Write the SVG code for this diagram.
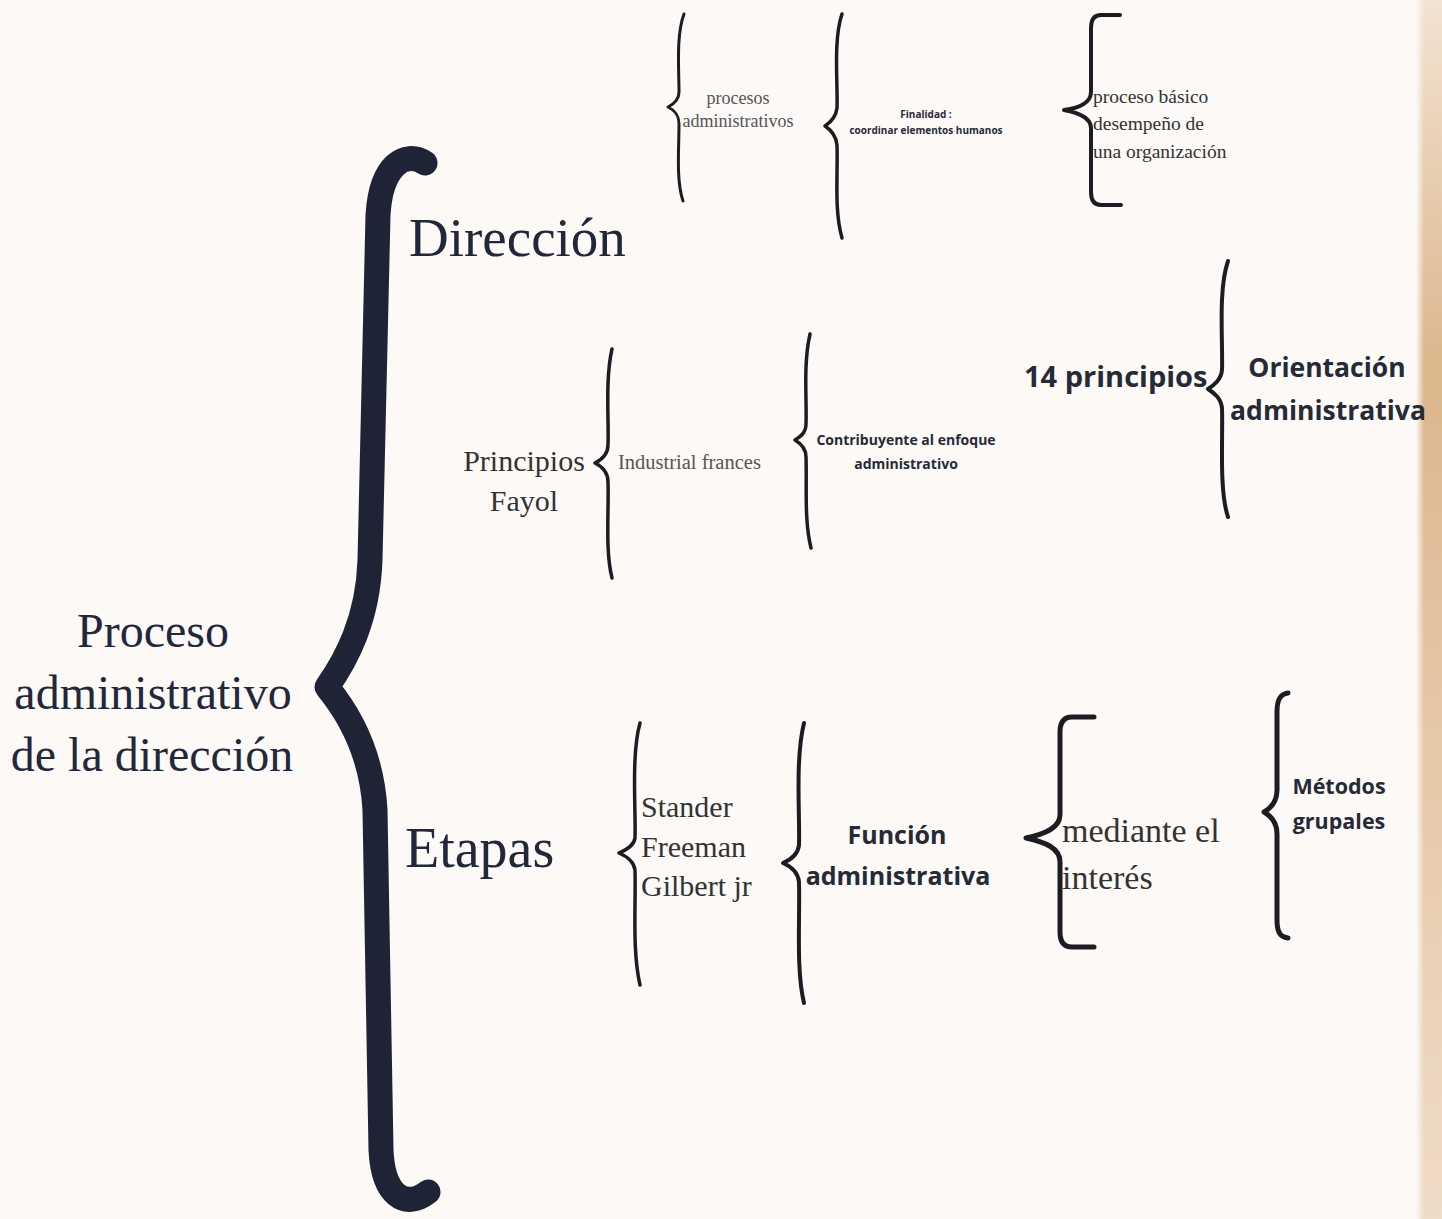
<svg xmlns="http://www.w3.org/2000/svg" width="1442" height="1219" viewBox="0 0 1442 1219">
<defs>
<linearGradient id="strip" x1="0" y1="0" x2="0" y2="1">
<stop offset="0" stop-color="#f3e3d2"/>
<stop offset="0.3" stop-color="#dcb68c"/>
<stop offset="0.6" stop-color="#e6c7a6"/>
<stop offset="1" stop-color="#efdcc8"/>
</linearGradient>
<linearGradient id="fade" x1="0" y1="0" x2="1" y2="0">
<stop offset="0" stop-color="#fcf9f7" stop-opacity="1"/>
<stop offset="1" stop-color="#fcf9f7" stop-opacity="0"/>
</linearGradient>
<style>
.serif{font-family:"Liberation Serif","Times New Roman",serif;fill:#23273a}
.gray{fill:#555555}
.mid{fill:#333333}
.bold{font-family:"Open Sans","Noto Sans","Liberation Sans",sans-serif;font-weight:700;fill:#262a36}
.br{fill:none;stroke:#1c1c22;stroke-linecap:round;stroke-linejoin:round}
.big{fill:none;stroke:#1e2436;stroke-width:25;stroke-linecap:round;stroke-linejoin:round}
</style>
</defs>
<rect x="0" y="0" width="1442" height="1219" fill="#fcf9f7"/>
<rect x="1416" y="0" width="26" height="1219" fill="url(#strip)"/>
<rect x="1416" y="0" width="8" height="1219" fill="url(#fade)"/>

<g id="connectors">
<path class="big" d="M 425,163 C 405,150 381,165 378,215 L 370,560 C 368,620 346,660 327,687 C 350,715 372,755 375,810 L 381,1150 C 383,1195 405,1210 428,1192"/>
<path class="br" stroke-width="3" d="M 684,14 C 676,35 679,70 679,92 C 679,100 674,104 668,107 C 674,110 679,114 679,124 C 679,150 676,180 683,201"/>
<path class="br" stroke-width="3.5" d="M 842,14 C 833,40 838,85 837,108 C 836,117 831,122 825,126 C 831,130 836,135 837,145 C 838,175 834,210 842,238"/>
<path class="br" stroke-width="4" d="M 1120,15 L 1101,15 C 1094,15 1091,20 1091,28 L 1091,92 C 1091,102 1080,108 1064,110 C 1080,113 1091,118 1091,128 L 1091,192 C 1091,200 1094,205 1101,205 L 1121,205"/>
<path class="br" stroke-width="3.5" d="M 612,349 C 605,380 609,420 608,445 C 608,455 601,460 595,463 C 601,466 608,471 608,482 C 609,510 605,550 612,578"/>
<path class="br" stroke-width="3.5" d="M 810,334 C 803,365 807,400 806,424 C 806,433 800,437 795,440 C 800,443 806,448 806,457 C 807,485 804,520 811,548"/>
<path class="br" stroke-width="4" d="M 1228,261 C 1218,290 1223,340 1222,370 C 1221,380 1214,385 1208,389 C 1214,393 1221,398 1222,408 C 1223,440 1219,490 1228,517"/>
<path class="br" stroke-width="3.5" d="M 640,723 C 631,755 636,810 635,838 C 634,846 626,850 619,853 C 626,856 634,861 635,870 C 636,905 632,950 640,985"/>
<path class="br" stroke-width="4" d="M 804,723 C 795,760 800,815 799,845 C 798,855 790,860 783,863 C 790,866 798,872 799,882 C 800,920 796,970 804,1003"/>
<path class="br" stroke-width="5" d="M 1094,717 L 1072,717 C 1064,717 1060,722 1060,732 L 1060,815 C 1060,828 1045,834 1026,838 C 1045,842 1060,848 1060,862 L 1060,932 C 1060,942 1064,947 1072,947 L 1094,947"/>
<path class="br" stroke-width="5" d="M 1288,693 C 1280,694 1277,700 1277,712 L 1277,790 C 1277,802 1271,808 1264,812 C 1271,816 1277,822 1277,834 L 1277,920 C 1277,932 1280,937 1288,938"/>
</g>

<g id="root">
<text class="serif" font-size="48" text-anchor="middle" x="153" y="647">Proceso</text>
<text class="serif" font-size="48" text-anchor="middle" x="153" y="709">administrativo</text>
<text class="serif" font-size="48" text-anchor="middle" x="152" y="771">de la dirección</text>
</g>
<g id="direccion">
<text class="serif" font-size="55" x="409" y="256">Dirección</text>
</g>
<g id="etapas">
<text class="serif" font-size="56" x="405" y="867">Etapas</text>
</g>
<g id="procesos">
<text class="serif gray" font-size="18" text-anchor="middle" x="738" y="104">procesos</text>
<text class="serif gray" font-size="18" text-anchor="middle" x="738" y="127">administrativos</text>
</g>
<g id="finalidad">
<text class="bold" font-size="10" text-anchor="middle" x="926" y="118">Finalidad :</text>
<text class="bold" font-size="10" text-anchor="middle" x="926" y="134">coordinar elementos humanos</text>
</g>
<g id="proceso-basico">
<text class="serif mid" font-size="19.5" x="1093" y="103">proceso básico</text>
<text class="serif mid" font-size="19.5" x="1093" y="130">desempeño de</text>
<text class="serif mid" font-size="19.5" x="1093" y="158">una organización</text>
</g>
<g id="principios-fayol">
<text class="serif mid" font-size="30" text-anchor="middle" x="524" y="471">Principios</text>
<text class="serif mid" font-size="30" text-anchor="middle" x="524" y="511">Fayol</text>
</g>
<g id="industrial">
<text class="serif gray" font-size="20.5" x="618" y="469">Industrial frances</text>
</g>
<g id="contribuyente">
<text class="bold" font-size="14" text-anchor="middle" x="906" y="445">Contribuyente al enfoque</text>
<text class="bold" font-size="14" text-anchor="middle" x="906" y="469">administrativo</text>
</g>
<g id="catorce">
<text class="bold" font-size="29" x="1024" y="387">14 principios</text>
</g>
<g id="orientacion">
<text class="bold" font-size="26.5" text-anchor="middle" x="1327" y="377">Orientación</text>
<text class="bold" font-size="26.5" text-anchor="middle" x="1328" y="420">administrativa</text>
</g>
<g id="autores">
<text class="serif mid" font-size="30" x="641" y="817">Stander</text>
<text class="serif mid" font-size="30" x="641" y="857">Freeman</text>
<text class="serif mid" font-size="30" x="641" y="896">Gilbert jr</text>
</g>
<g id="funcion">
<text class="bold" font-size="25" text-anchor="middle" x="897" y="844">Función</text>
<text class="bold" font-size="25" text-anchor="middle" x="898" y="885">administrativa</text>
</g>
<g id="mediante">
<text class="serif mid" font-size="34" x="1062" y="842">mediante el</text>
<text class="serif mid" font-size="34" x="1062" y="889">interés</text>
</g>
<g id="metodos">
<text class="bold" font-size="21.5" text-anchor="middle" x="1339" y="794">Métodos</text>
<text class="bold" font-size="21.5" text-anchor="middle" x="1339" y="829">grupales</text>
</g>
</svg>
